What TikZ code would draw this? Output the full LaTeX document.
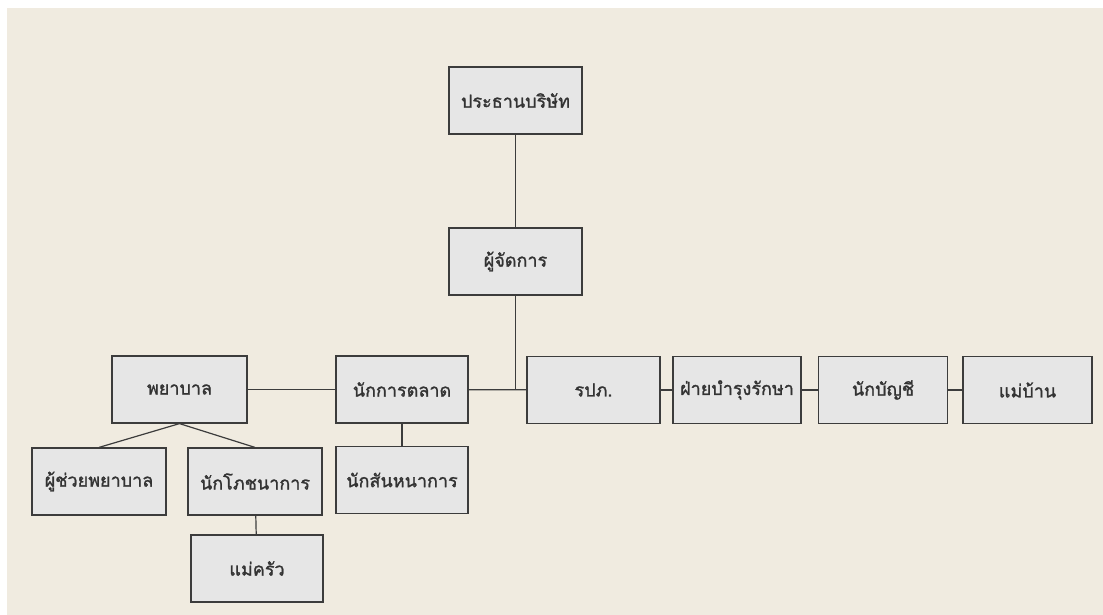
\documentclass[tikz,border=0pt]{standalone}
\usepackage{fontspec}
\newfontfamily\thaifont[Script=Thai,FakeBold=1.4]{Loma}
\usepackage{tikz}
\definecolor{paper}{HTML}{F0EBE0}
\definecolor{boxfill}{HTML}{E6E6E6}
\definecolor{boxline}{HTML}{3C3C3C}
\definecolor{boxtext}{HTML}{333333}

\begin{document}
\begin{tikzpicture}
	 [x=1pt,y=-1pt,every node/.style={draw=boxline,fill=boxfill,line width=1.2pt,inner sep=0pt,
	  minimum width=133pt,minimum height=67pt,text=boxtext,font=\thaifont\fontsize{18}{21}\selectfont}]
	\useasboundingbox (0,0) rectangle (1103,615);
	\fill[paper] (7,8) rectangle (1103,615);

	  \node (pres) at (515.5,100.5) {ประธานบริษัท};
	  \node (mgr) at (515.5,261.5) {ผู้จัดการ};

	  \node (nurse)[minimum width=135pt] at (179.5,389.5) {พยาบาล};
	  \node (mkt)[minimum width=132pt] at (402,389.5) {นักการตลาด};
	  \node (guard) at (593.5,390) {รปภ.};
	  \node (maint)[minimum width=128pt] at (737,390) {ฝ่ายบำรุงรักษา};
	  \node (acct)[minimum width=129pt] at (883,390) {นักบัญชี};
	  \node (maid)[minimum width=129pt] at (1027.5,390) {แม่บ้าน};

	  \node (aide)[minimum width=134pt] at (99,481.5) {ผู้ช่วยพยาบาล};
	  \node (nutr)[minimum width=134pt] at (255,481.5) {นักโภชนาการ};
	  \node (rec)[minimum width=132pt] at (402,480) {นักสันหนาการ};
	  \node (cook)[minimum width=132pt] at (257,568.5) {แม่ครัว};

	\foreach \from/\to in {pres/mgr,nurse/mkt,mkt/guard,guard/maint,maint/acct,acct/maid,mkt/rec,nutr/cook}
    \draw[boxline,line width=1.2pt] (\from) -- (\to);

% mgr joins the row line
	\draw[boxline,line width=1.2pt] (mgr.south) -- (mgr.south |- mkt.east);
	\draw[boxline,line width=1.2pt] (nurse.south) -- (aide.north);
	\draw[boxline,line width=1.2pt] (nurse.south) -- (nutr.north);

\end{tikzpicture}
\end{document}
